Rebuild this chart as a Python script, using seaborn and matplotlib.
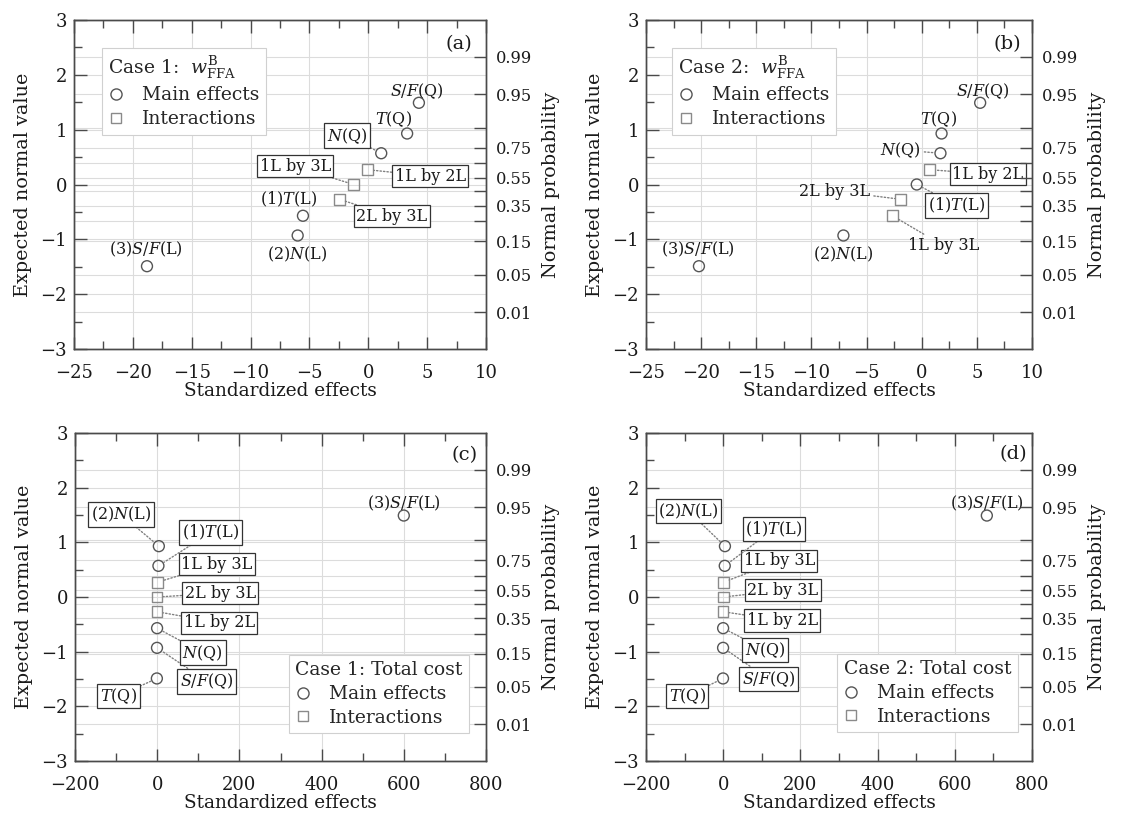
import matplotlib
matplotlib.use("Agg")
import matplotlib.pyplot as plt
import seaborn as sns
import pandas as pd
from statistics import NormalDist
from matplotlib.lines import Line2D
from matplotlib.ticker import MultipleLocator, FixedLocator

# ---------------- data ----------------
normal_scores = [-1.49, -0.93, -0.57, -0.27, 0.0, 0.27, 0.57, 0.93, 1.49]

a_effects = ["(3)S/F(L)", "(2)N(L)", "(1)T(L)", "2L by 3L", "1L by 3L", "1L by 2L", "N(Q)", "T(Q)", "S/F(Q)"]
a_values = [-18.8, -6.0, -5.55, -2.45, -1.25, -0.05, 1.1, 3.3, 4.3]

b_effects = ["(3)S/F(L)", "(2)N(L)", "1L by 3L", "2L by 3L", "(1)T(L)", "1L by 2L", "N(Q)", "T(Q)", "S/F(Q)"]
b_values = [-20.2, -7.1, -2.65, -1.9, -0.45, 0.7, 1.7, 1.8, 5.3]

c_effects = ["T(Q)", "S/F(Q)", "N(Q)", "1L by 2L", "2L by 3L", "1L by 3L", "(1)T(L)", "(2)N(L)", "(3)S/F(L)"]
c_values = [-0.8, -0.5, -0.3, -0.2, 0.0, 0.3, 3.0, 4.0, 600.0]

d_effects = ["T(Q)", "S/F(Q)", "N(Q)", "1L by 2L", "2L by 3L", "1L by 3L", "(1)T(L)", "(2)N(L)", "(3)S/F(L)"]
d_values = [-0.5, -0.3, -0.2, -0.1, 0.1, 0.3, 4.0, 4.5, 683.0]

legend_titles = ["Case 1:  $w_{\\mathrm{FFA}}^{\\mathrm{B}}$", "Case 2:  $w_{\\mathrm{FFA}}^{\\mathrm{B}}$",
                 "Case 1: Total cost", "Case 2: Total cost"]
panel_tags = ["(a)", "(b)", "(c)", "(d)"]
kind_names = ["Main effects", "Interactions"]

prob_major = [0.01, 0.05, 0.15, 0.35, 0.55, 0.75, 0.95, 0.99]
prob_minor = [0.25, 0.45, 0.65, 0.85]

effect_text = {
    "(3)S/F(L)": "(3)$S/F$(L)", "(2)N(L)": "(2)$N$(L)", "(1)T(L)": "(1)$T$(L)",
    "N(Q)": "$N$(Q)", "T(Q)": "$T$(Q)", "S/F(Q)": "$S/F$(Q)",
    "1L by 2L": "1L by 2L", "1L by 3L": "1L by 3L", "2L by 3L": "2L by 3L",
}

# ---------------- layout (label placement: x, y, boxed, leader) ----------------
a_labels = {
    "(3)S/F(L)": (-18.9, -1.19, False, False), "(2)N(L)": (-6.0, -1.28, False, False),
    "(1)T(L)": (-6.8, -0.28, False, False), "2L by 3L": (2.0, -0.58, True, True),
    "1L by 3L": (-6.2, 0.33, True, True), "1L by 2L": (5.27, 0.15, True, True),
    "N(Q)": (-1.8, 0.89, True, True), "T(Q)": (2.15, 1.19, False, False),
    "S/F(Q)": (4.14, 1.71, False, False),
}
b_labels = {
    "(3)S/F(L)": (-20.3, -1.19, False, False), "(2)N(L)": (-7.1, -1.28, False, False),
    "1L by 3L": (2.0, -1.12, False, True), "2L by 3L": (-7.86, -0.12, False, True),
    "(1)T(L)": (3.15, -0.38, True, True), "1L by 2L": (6.0, 0.19, True, True),
    "N(Q)": (-1.9, 0.63, False, True), "T(Q)": (1.5, 1.19, False, False),
    "S/F(Q)": (5.56, 1.71, False, False),
}
c_labels = {
    "T(Q)": (-94, -1.81, True, True), "S/F(Q)": (121, -1.54, True, True),
    "N(Q)": (111, -1.02, True, True), "1L by 2L": (151, -0.47, True, True),
    "2L by 3L": (153, 0.07, True, True), "1L by 3L": (145, 0.60, True, True),
    "(1)T(L)": (130, 1.18, True, True), "(2)N(L)": (-88, 1.51, True, True),
    "(3)S/F(L)": (600, 1.71, False, False),
}
d_labels = {
    "T(Q)": (-93, -1.81, True, True), "S/F(Q)": (118, -1.50, True, True),
    "N(Q)": (109, -0.97, True, True), "1L by 2L": (153, -0.43, True, True),
    "2L by 3L": (154, 0.12, True, True), "1L by 3L": (145, 0.66, True, True),
    "(1)T(L)": (131, 1.24, True, True), "(2)N(L)": (-90, 1.57, True, True),
    "(3)S/F(L)": (683, 1.71, False, False),
}

# ---------------- style ----------------
sns.set_theme(style="ticks")
plt.rcParams["font.family"] = ["DejaVu Serif"]
plt.rcParams["mathtext.fontset"] = "dejavuserif"

SPINE = "#4a4a4a"
GRID = "#dcdcdc"
MAIN_EC = "#555555"
INT_EC = "#8a8a8a"
TICK_FS = 13
LAB_FS = 13.8
ANN_FS = 11.5
LEG_FS = 13.5

W, H = 1136, 819
fig = plt.figure(figsize=(W / 100, H / 100), dpi=100)


def px_axes(l, t, r, b):
    return fig.add_axes([l / W, 1 - b / H, (r - l) / W, (b - t) / H])


axes = [px_axes(74, 20, 486, 349), px_axes(646, 20, 1032, 349),
        px_axes(75, 433, 486, 761), px_axes(646, 433, 1032, 761)]

nd = NormalDist()
z_major = [nd.inv_cdf(p) for p in prob_major]
z_minor = [nd.inv_cdf(p) for p in prob_minor]

panels = [
    (a_effects, a_values, a_labels, (-25, 10), 5, (0.067, 0.915), "upper left", (7.7, 2.57)),
    (b_effects, b_values, b_labels, (-25, 10), 5, (0.0665, 0.915), "upper left", (7.8, 2.57)),
    (c_effects, c_values, c_labels, (-200, 800), 200, (0.959, 0.0845), "lower right", (748, 2.6)),
    (d_effects, d_values, d_labels, (-200, 800), 200, (0.963, 0.0875), "lower right", (751, 2.62)),
]

for i, (ax, (effects, values, labels, xlim, xstep, leg_anchor, leg_loc, tag_pos)) in enumerate(zip(axes, panels)):
    df = pd.DataFrame({
        "effect": effects,
        "value": values,
        "score": normal_scores,
        "kind": [kind_names[1] if "by" in e else kind_names[0] for e in effects],
    })
    main = df[df["kind"] == kind_names[0]]
    inter = df[df["kind"] == kind_names[1]]

    ax.set_axisbelow(True)
    ax.grid(True, which="major", color=GRID, lw=0.8)
    for z in z_major + z_minor:
        ax.axhline(z, color=GRID, lw=0.8, zorder=0.5)

    sns.scatterplot(data=main, x="value", y="score", marker="o", s=62, facecolor="none",
                    edgecolor=MAIN_EC, linewidth=1.0, ax=ax, legend=False, zorder=3)
    sns.scatterplot(data=inter, x="value", y="score", marker="s", s=58, facecolor="none",
                    edgecolor=INT_EC, linewidth=1.0, ax=ax, legend=False, zorder=3)

    for _, row in df.iterrows():
        lx, ly, boxed, leader = labels[row["effect"]]
        bbox = dict(boxstyle="square,pad=0.16", fc="white", ec="#333333", lw=0.9) if boxed else None
        arrow = None
        if leader:
            arrow = dict(arrowstyle="-", linestyle=(0, (1, 1.5)), color="#808080", lw=1.0,
                         shrinkA=0, shrinkB=4.5)
        ax.annotate(effect_text[row["effect"]], xy=(row["value"], row["score"]), xytext=(lx, ly),
                    textcoords="data", ha="center", va="center", fontsize=ANN_FS, color="#1a1a1a",
                    bbox=bbox, arrowprops=arrow, zorder=4)

    ax.text(tag_pos[0], tag_pos[1], panel_tags[i], ha="center", va="center", fontsize=14, color="#1a1a1a")

    ax.set_xlim(*xlim)
    ax.set_ylim(-3, 3)
    ax.xaxis.set_major_locator(MultipleLocator(xstep))
    ax.xaxis.set_minor_locator(MultipleLocator(xstep / 2))
    ax.yaxis.set_major_locator(MultipleLocator(1))
    ax.yaxis.set_minor_locator(MultipleLocator(0.5))
    ax.tick_params(which="both", direction="in", top=True, right=False, color=SPINE,
                   labelsize=TICK_FS, labelcolor="#1a1a1a", width=1.0)
    ax.tick_params(which="major", length=9)
    ax.tick_params(which="minor", length=6)
    ax.tick_params(axis="x", pad=11)
    ax.tick_params(axis="y", pad=5)
    ax.set_xlabel("Standardized effects", fontsize=13.3, labelpad=0, color="#1a1a1a")
    ax.set_ylabel("Expected normal value", fontsize=LAB_FS, labelpad=6, color="#1a1a1a")
    for sp in ax.spines.values():
        sp.set_color(SPINE)
        sp.set_linewidth(1.0)

    tw = ax.twinx()
    tw.set_ylim(-3, 3)
    tw.yaxis.set_major_locator(FixedLocator(z_major))
    tw.set_yticklabels([f"{p:.2f}" for p in prob_major])
    tw.yaxis.set_minor_locator(FixedLocator(z_minor))
    tw.tick_params(which="both", direction="in", color=SPINE, labelsize=TICK_FS - 1.3,
                   labelcolor="#1a1a1a", width=1.0, length=9, pad=7)
    tw.set_ylabel("Normal probability", fontsize=LAB_FS, labelpad=7, color="#1a1a1a")
    for sp in tw.spines.values():
        sp.set_color(SPINE)
        sp.set_linewidth(1.0)

    handles = [
        Line2D([], [], ls="none", marker="o", ms=8, mfc="none", mec=MAIN_EC, mew=1.0),
        Line2D([], [], ls="none", marker="s", ms=7.5, mfc="none", mec=INT_EC, mew=1.0),
    ]
    leg = ax.legend(handles, kind_names, title=legend_titles[i], loc=leg_loc, bbox_to_anchor=leg_anchor,
                    borderaxespad=0, fontsize=LEG_FS, title_fontsize=LEG_FS, frameon=True, fancybox=False,
                    edgecolor="#d0d0d0", framealpha=1, handlelength=0.8, handletextpad=1.0,
                    labelspacing=0.3, borderpad=0.35)
    leg._legend_box.align = "left"
    leg.get_frame().set_linewidth(0.8)
    leg.set_zorder(5)

fig.savefig("out.png", dpi=100)
